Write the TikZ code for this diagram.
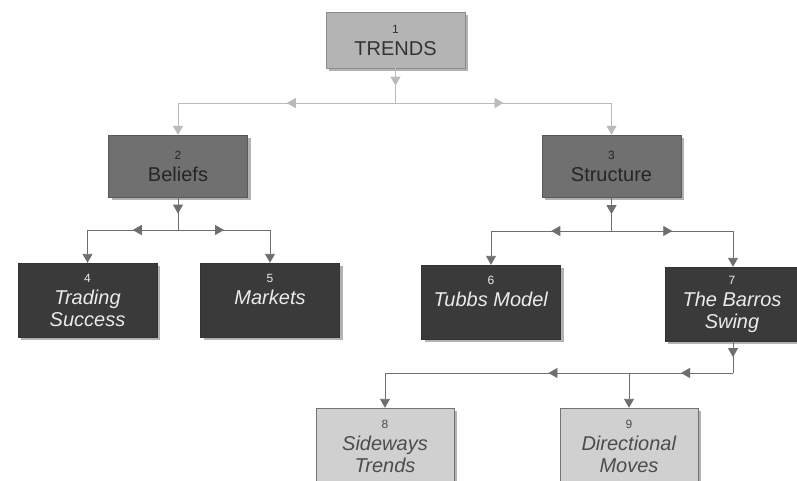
\documentclass[tikz,border=0pt]{standalone}
\usepackage{fontspec}
\setmainfont{Liberation Sans}
\usetikzlibrary{positioning,shadows,arrows.meta,decorations.markings}
\definecolor{topfill}{RGB}{180,180,180}
\definecolor{midfill}{RGB}{112,112,112}
\definecolor{darkfill}{RGB}{58,58,58}
\definecolor{lightfill}{RGB}{208,208,208}
\definecolor{toplinkcol}{RGB}{186,186,186}
\definecolor{linkcol}{RGB}{110,110,110}
\newcommand{\nf}{\fontsize{12}{13}\selectfont}

\begin{document}
\begin{tikzpicture}[x=1pt,y=-1pt,
  box/.style={align=center,inner sep=2pt,font=\fontsize{20}{22}\selectfont,
    drop shadow={shadow xshift=3pt,shadow yshift=-3pt,fill=black,opacity=0.3}},
  topbox/.style={box,draw=black!45,fill=topfill,text=black!80,minimum width=139pt,minimum height=56pt},
  midbox/.style={box,draw=black!65,fill=midfill,text=black!85,minimum width=139pt,minimum height=62pt},
  darkbox/.style={box,draw=black!80,fill=darkfill,text=white!92!black,minimum width=139pt,minimum height=74pt},
  lightbox/.style={box,draw=black!55,fill=lightfill,text=black!70,minimum width=138pt,minimum height=76pt},
  toplink/.style={draw=toplinkcol,line width=0.9pt},
  link/.style={draw=linkcol,line width=0.9pt},
  midarr/.style={postaction={decorate},decoration={markings,
    mark=at position #1 with {\arrow{Triangle[length=9pt,width=10pt]}}}},
  midarr/.default=0.5,
  endarr/.style={-{Triangle[length=9pt,width=10pt]}}]
  \useasboundingbox (0,0) rectangle (797,481);

  % boxes
  \node[topbox] (trends) at (395.5,40) {{\nf 1}\\TRENDS};
  \node[midbox] (beliefs) at (178,166) {{\nf 2}\\Beliefs};
  \node[midbox] (structure) at (611.5,166) {{\nf 3}\\Structure};
  \node[darkbox] (trading) at (87.5,300) {{\nf 4}\\\textit{Trading}\\\textit{Success}};
  \node[darkbox] (markets) at (270,300) {{\nf 5}\\\textit{Markets}\\\mbox{}};
  \node[darkbox] (tubbs) at (491,302) {{\nf 6}\\\textit{Tubbs Model}\\\mbox{}};
  \node[darkbox,minimum width=134pt] (barros) at (732,304) {{\nf 7}\\\textit{The Barros}\\\textit{Swing}};
  \node[lightbox] (sideways) at (385,446) {{\nf 8}\\\textit{Sideways}\\\textit{Trends}};
  \node[lightbox] (directional) at (629,446) {{\nf 9}\\\textit{Directional}\\\textit{Moves}};

  % junctions
  \coordinate (j1) at (trends.south |- 0,103);
  \coordinate (j2) at (beliefs.south |- 0,230);
  \coordinate (j3) at (structure.south |- 0,231);
  \coordinate (j4) at (733,373);
  \coordinate (j5) at (directional.north |- j4);

  % links
  \draw[toplink,midarr] (trends.south) -- (j1);
  \draw[toplink,midarr] (j1) -- (j1 -| beliefs);
  \draw[toplink,midarr] (j1) -- (j1 -| structure);
  \draw[toplink,endarr] (j1 -| beliefs) -- (beliefs.north);
  \draw[toplink,endarr] (j1 -| structure) -- (structure.north);

  \draw[link,midarr] (beliefs.south) -- (j2);
  \draw[link,midarr] (j2) -- (j2 -| trading);
  \draw[link,midarr] (j2) -- (j2 -| markets);
  \draw[link,endarr] (j2 -| trading) -- (trading.north);
  \draw[link,endarr] (j2 -| markets) -- (markets.north);

  \draw[link,midarr] (structure.south) -- (j3);
  \draw[link,midarr] (j3) -- (j3 -| tubbs);
  \draw[link,midarr] (j3) -- (j3 -| j4);
  \draw[link,endarr] (j3 -| tubbs) -- (tubbs.north);
  \draw[link,endarr] (j3 -| j4) -- (j4 |- barros.north);

  \draw[link,midarr] (j4 |- barros.south) -- (j4);
  \draw[link,midarr] (j4) -- (j5);
  \draw[link,midarr=0.33] (j5) -- (j5 -| sideways);
  \draw[link,endarr] (j5) -- (directional.north);
  \draw[link,endarr] (j5 -| sideways) -- (sideways.north);
\end{tikzpicture}
\end{document}
